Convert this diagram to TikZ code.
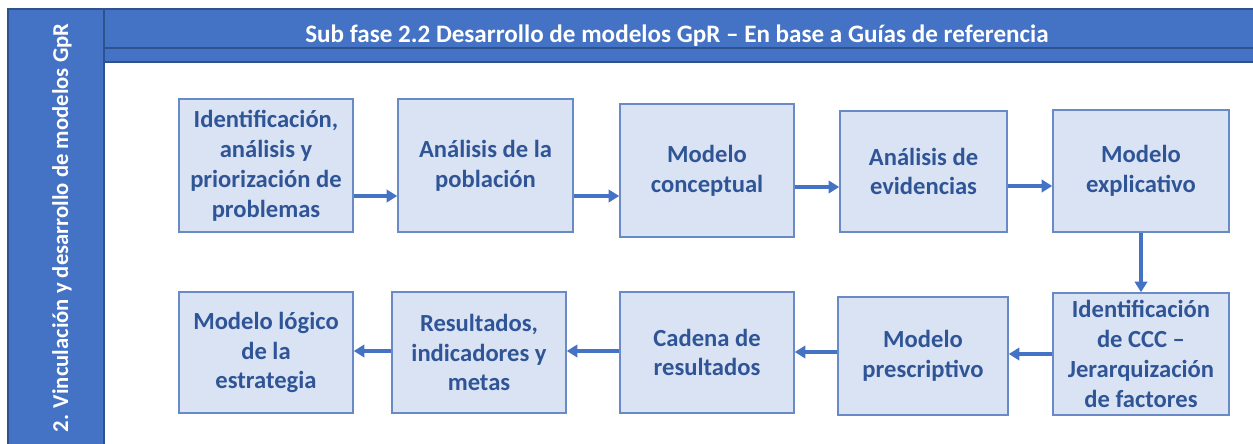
\documentclass[tikz,border=0pt]{standalone}
\usepackage{fontspec}
\setmainfont{Carlito}
\usetikzlibrary{arrows.meta}
\definecolor{BarBlue}{HTML}{4472C4}
\definecolor{BarEdge}{HTML}{2F528F}
\definecolor{BoxFill}{HTML}{DAE3F3}
\definecolor{BoxEdge}{HTML}{6A8AC6}
\definecolor{TextBlue}{HTML}{2F5597}

\begin{document}
\begin{tikzpicture}[x=0.02cm, y=-0.02cm,
        stage/.style={draw=BoxEdge, fill=BoxFill, line width=0.9pt, text=TextBlue,
            font=\bfseries\fontsize{14}{17}\selectfont, align=center, inner sep=0pt},
        flow/.style={-{Triangle[length=6pt,width=7pt]}, line width=1.8pt, BarBlue}]
        \useasboundingbox (0,0) rectangle (1253,443);
        % bars
        \draw[fill=BarBlue, draw=BarEdge, line width=0.8pt] (8,9) rectangle (104,450);
        \draw[fill=BarBlue, draw=BarEdge, line width=0.8pt] (104,9) rectangle (1260,62);
        \draw[BarEdge, line width=0.8pt] (104,48) -- (1260,48);
        \node[text=white, font=\bfseries\fontsize{14.3}{17}\selectfont] (title) at (677,36)
            {Sub fase 2.2 Desarrollo de modelos GpR -- En base a Guías de referencia};
        \node[text=white, rotate=90, font=\bfseries\fontsize{12.9}{15}\selectfont] (phase) at (62,228)
            {2. Vinculación y desarrollo de modelos GpR};
        % first row
        \node[stage, minimum width=3.48cm, minimum height=2.66cm] (ident) at (266,165.5)
            {Identificación,\\análisis y\\priorización de\\problemas};
        \node[stage, minimum width=3.5cm, minimum height=2.66cm] (pobl) at (485.5,165.5)
            {Análisis de la\\población};
        \node[stage, minimum width=3.48cm, minimum height=2.66cm] (concep) at (707,170.5)
            {Modelo\\conceptual};
        \node[stage, minimum width=3.34cm, minimum height=2.42cm] (evid) at (923.5,171.5)
            {Análisis de\\evidencias};
        \node[stage, minimum width=3.52cm, minimum height=2.44cm] (explic) at (1141,171)
            {Modelo\\explicativo};
        % second row
        \node[stage, minimum width=3.52cm, minimum height=2.44cm] (ccc) at (1141,354)
            {Identificación\\de CCC --\\Jerarquización\\de factores};
        \node[stage, minimum width=3.4cm, minimum height=2.36cm] (prescr) at (923,356)
            {Modelo\\prescriptivo};
        \node[stage, minimum width=3.48cm, minimum height=2.42cm] (cadena) at (707,352.5)
            {Cadena de\\resultados};
        \node[stage, minimum width=3.48cm, minimum height=2.42cm] (result) at (479,352.5)
            {Resultados,\\indicadores y\\metas};
        \node[stage, minimum width=3.48cm, minimum height=2.42cm] (logico) at (266,352.5)
            {Modelo lógico\\de la\\estrategia};
        % arrows
        \draw[flow] (ident.east |- 0,196) -- (pobl.west |- 0,196);
        \draw[flow] (pobl.east |- 0,196) -- (concep.west |- 0,196);
        \draw[flow] (concep.east |- 0,187) -- (evid.west |- 0,187);
        \draw[flow] (evid.east |- 0,186) -- (explic.west |- 0,186);
        \draw[flow] (explic.south) -- (ccc.north);
        \draw[flow] (ccc.west |- 0,354) -- (prescr.east |- 0,354);
        \draw[flow] (prescr.west |- 0,352) -- (cadena.east |- 0,352);
        \draw[flow] (cadena.west |- 0,351) -- (result.east |- 0,351);
        \draw[flow] (result.west |- 0,351) -- (logico.east |- 0,351);
\end{tikzpicture}
\end{document}
